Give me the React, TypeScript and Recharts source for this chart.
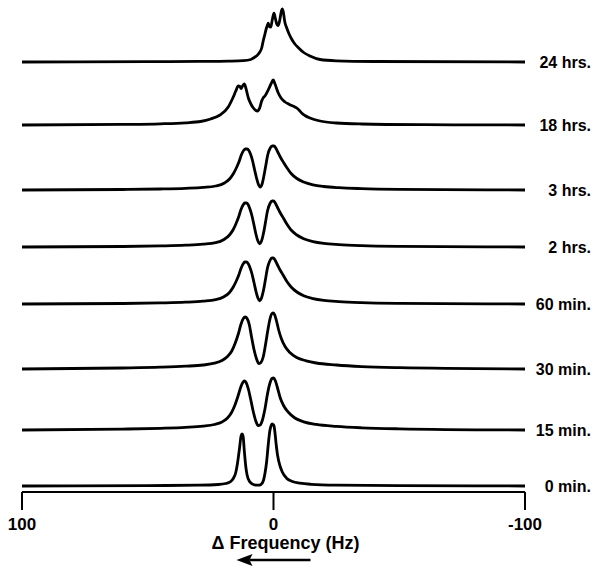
import { LineChart, Line, XAxis, YAxis, LabelList } from 'recharts'

// [Hz, intensity] pairs (intensity in px above each baseline)
const trace24h: [number, number][] = [
  [100, 0], [50, 0.3], [30, 0.6], [18, 0.9], [12, 1.3], [9, 2.5], [8, 4], [6, 8], [4.7, 14],
  [4.05, 21.5], [3.4, 28], [2.8, 34], [2.4, 37], [2.07, 38.8], [1.7, 35.5], [1.1, 34.8],
  [0.5, 42], [-0.2, 48.8], [-0.7, 44], [-1.3, 38], [-1.9, 36.5], [-2.5, 42], [-3.1, 50.5],
  [-3.5, 53.2], [-3.9, 50], [-4.5, 40], [-5.2, 34.5], [-6.2, 28], [-7.2, 23], [-8.5, 18],
  [-9.8, 14.5], [-12, 9.5], [-14.5, 6], [-18.5, 2.5], [-25, 1.2], [-40, 0.5], [-100, 0],
]
const trace18h: [number, number][] = [
  [100, 0], [60, 0.6], [45, 1.2], [35, 2.2], [29, 3.5], [25, 6], [21.3, 10], [18, 18],
  [16, 28], [15, 34], [14, 39], [13.4, 38.5], [12.9, 36.5], [12.3, 39], [11.6, 41], [11, 37],
  [10, 27], [9, 21], [8, 17], [7, 14.5], [6.4, 14], [5.5, 17], [4.7, 24], [4, 27.5],
  [3.4, 29], [2.8, 31.5], [2.1, 35], [1, 41], [0.1, 45], [-0.6, 41], [-1.9, 32], [-3, 27],
  [-4.6, 23], [-6, 21], [-7.2, 19.5], [-8.5, 18], [-9.5, 16.5], [-10.5, 14], [-11.2, 12],
  [-12.5, 9.5], [-14.5, 7], [-18.5, 4], [-25, 2], [-35, 1], [-60, 0.3], [-100, 0],
]
const trace3h: [number, number][] = [
  [100, 0], [60, 0.5], [45, 1], [35, 1.7], [28, 2.6], [23, 4], [19.5, 7], [17.3, 11.5],
  [15.8, 17], [14.6, 23], [13.6, 29], [12.8, 35], [11.9, 39.5], [11.1, 41], [10.5, 41],
  [9.8, 39.5], [9, 35], [8.3, 29], [7.5, 20], [6.7, 11.5], [5.9, 5], [5.3, 3], [4.6, 5.5],
  [3.9, 13], [3.1, 24], [2.3, 35], [1.3, 42], [0.5, 44], [-0.2, 44], [-0.9, 42], [-1.7, 38],
  [-2.7, 33], [-4, 27.5], [-5.4, 22], [-7, 16.5], [-9.3, 11.5], [-12, 8], [-15.7, 5.2],
  [-20, 3.5], [-26, 2.3], [-35, 1.4], [-50, 0.7], [-100, 0],
]
const trace2h: [number, number][] = [
  [100, 0], [60, 0.5], [45, 1.1], [35, 1.8], [28, 2.8], [23, 4.3], [19.7, 7.5], [17.5, 12],
  [16, 17.5], [14.8, 24], [13.8, 30.5], [13, 37], [12.1, 42], [11.4, 44], [10.8, 44],
  [10.1, 42.5], [9.3, 37.5], [8.6, 31.5], [7.8, 22.5], [7, 13], [6.2, 6], [5.5, 3.2],
  [4.8, 5.8], [4, 13.5], [3.2, 24.5], [2.4, 36], [1.4, 43.5], [0.5, 46], [0, 46], [-0.7, 44],
  [-1.5, 40], [-2.5, 35], [-3.9, 29], [-5.3, 23], [-7, 17], [-9.3, 12], [-12, 8.2],
  [-15.7, 5.4], [-20, 3.6], [-26, 2.4], [-35, 1.4], [-50, 0.7], [-100, 0],
]
const trace60m: [number, number][] = [
  [100, 0], [60, 0.5], [45, 1.1], [35, 1.8], [28, 2.8], [23, 4.3], [19.7, 7.3], [17.5, 11.5],
  [16, 17], [14.8, 23], [13.8, 29], [13, 35], [12.1, 40], [11.4, 42], [10.8, 42],
  [10.1, 40.5], [9.3, 36], [8.6, 30.5], [7.8, 22], [7, 13], [6.2, 6], [5.5, 3.2],
  [4.8, 5.8], [4, 13.5], [3.2, 24.5], [2.4, 36], [1.4, 43.5], [0.6, 46], [0.1, 46], [-0.6, 44],
  [-1.4, 40], [-2.4, 35], [-3.8, 29], [-5.2, 23], [-7, 17], [-9.3, 12], [-12, 8.2],
  [-15.7, 5.4], [-20, 3.6], [-26, 2.4], [-35, 1.4], [-50, 0.7], [-100, 0],
]
const trace30m: [number, number][] = [
  [100, 0], [60, 1], [45, 1.8], [35, 2.8], [28, 4], [23.5, 5.8], [20.5, 8.5], [18.3, 12.5],
  [16.6, 18], [15.2, 26], [14, 35], [12.9, 45], [12, 50.5], [11.2, 52], [10.5, 50.5],
  [9.6, 44], [8.8, 33], [7.8, 20], [6.8, 10.5], [5.8, 5.5], [5, 6.5], [4.1, 12], [3.2, 24],
  [2.3, 38], [1.4, 50], [0.6, 55.5], [0.1, 56], [-0.5, 54], [-1.2, 48], [-2, 39.5],
  [-3.1, 30.5], [-4.6, 22.5], [-6.5, 16.5], [-9.2, 11.5], [-13, 8.2], [-17, 6],
  [-25, 4], [-35, 2.4], [-50, 1.3], [-100, 0],
]
const trace15m: [number, number][] = [
  [100, 0], [60, 0.9], [45, 1.7], [35, 2.6], [28, 3.8], [23.5, 5.5], [20.5, 8], [18.3, 12],
  [16.8, 17], [15.4, 24.5], [14.1, 34], [13, 43], [12.2, 47.5], [11.6, 49], [10.9, 47.5],
  [10, 41], [9.1, 31], [8.1, 19], [7.1, 9.5], [6.1, 4.5], [5.3, 5], [4.4, 10], [3.4, 21],
  [2.4, 36], [1.4, 47], [0.6, 51.5], [0, 52], [-0.7, 49.5], [-1.6, 42], [-2.7, 32],
  [-4.1, 24], [-6, 17.5], [-8.5, 12], [-12, 8.2], [-17, 5.6], [-25, 3.6], [-35, 2.2],
  [-50, 1.2], [-100, 0],
]
const trace0m: [number, number][] = [
  [100, 0], [50, 0.4], [30, 0.8], [22, 1.5], [19, 2.5], [17, 4.5], [16, 7.5], [15, 13.5],
  [14.3, 23], [13.5, 38], [12.9, 50], [12.5, 52], [12.1, 50], [11.6, 35], [11, 19],
  [10.5, 11], [9.5, 4.5], [8.5, 2.2], [7, 0.9], [6, 0.8], [5, 1.5], [4, 5.5], [3.4, 12.5],
  [2.7, 25], [2.1, 41], [1.5, 54.5], [1, 60], [0.6, 62], [0.2, 61.5], [-0.2, 60],
  [-0.6, 53], [-1, 43], [-1.6, 31], [-2.6, 20], [-3.5, 14], [-5.2, 7.8], [-7.5, 4.5],
  [-10.5, 2.8], [-15, 1.7], [-25, 0.9], [-50, 0.4], [-100, 0],
]

const traceLabels = ['24 hrs.', '18 hrs.', '3 hrs.', '2 hrs.', '60 min.', '30 min.', '15 min.', '0 min.']
const traceOffsets = [430, 367, 302, 245, 188, 123, 62, 6]
const traces = [trace24h, trace18h, trace3h, trace2h, trace60m, trace30m, trace15m, trace0m]
const xTicks = [100, 0, -100]

const FONT = '"Liberation Sans", Arial, sans-serif'

function AxisTitle({ viewBox }: any) {
  const cx = viewBox.x + viewBox.width / 2
  const y = viewBox.y
  return (
    <g>
      <text
        x={cx + 12}
        y={y + 57}
        textAnchor="middle"
        fontFamily={FONT}
        fontWeight="bold"
        fontSize={18}
        fill="#000"
      >
        Δ Frequency (Hz)
      </text>
      <line x1={cx - 24} y1={y + 68} x2={cx + 37} y2={y + 68} stroke="#000" strokeWidth={2.5} />
      <polygon
        points={`${cx - 37},${y + 68} ${cx - 21},${y + 62} ${cx - 24},${y + 68} ${cx - 21},${y + 74}`}
        fill="#000"
      />
    </g>
  )
}

export default function App() {
  return (
    <div style={{ position: 'absolute', left: 0, top: 0, width: 600, height: 575, background: '#fff' }}>
      <LineChart width={600} height={575} margin={{ top: 0, right: 75, left: 22, bottom: 0 }}>
        <XAxis
          type="number"
          dataKey="hz"
          domain={[-100, 100]}
          reversed
          allowDataOverflow
          ticks={xTicks}
          interval={0}
          height={83}
          tickSize={18}
          tickMargin={8}
          axisLine={{ stroke: '#000', strokeWidth: 2 }}
          tickLine={{ stroke: '#000', strokeWidth: 2 }}
          tick={{ fill: '#000', fontSize: 17, fontWeight: 'bold', fontFamily: FONT }}
          label={{ content: (p: any) => <AxisTitle viewBox={p.viewBox} /> }}
        />
        <YAxis type="number" domain={[0, 492]} hide allowDataOverflow />
        {traces.map((pts, i) => {
          const data = pts.map(([hz, h]) => ({ hz, v: traceOffsets[i] + h }))
          return (
            <Line
              key={traceLabels[i]}
              data={data}
              dataKey="v"
              type="monotone"
              stroke="#000"
              strokeWidth={2.8}
              dot={false}
              isAnimationActive={false}
            >
              <LabelList
                dataKey="v"
                content={(p: any) =>
                  p.index === data.length - 1 ? (
                    <text
                      x={p.x + 66}
                      y={p.y}
                      dy="0.35em"
                      textAnchor="end"
                      fontFamily={FONT}
                      fontWeight="bold"
                      fontSize={16}
                      fill="#000"
                    >
                      {traceLabels[i]}
                    </text>
                  ) : null
                }
              />
            </Line>
          )
        })}
      </LineChart>
    </div>
  )
}
